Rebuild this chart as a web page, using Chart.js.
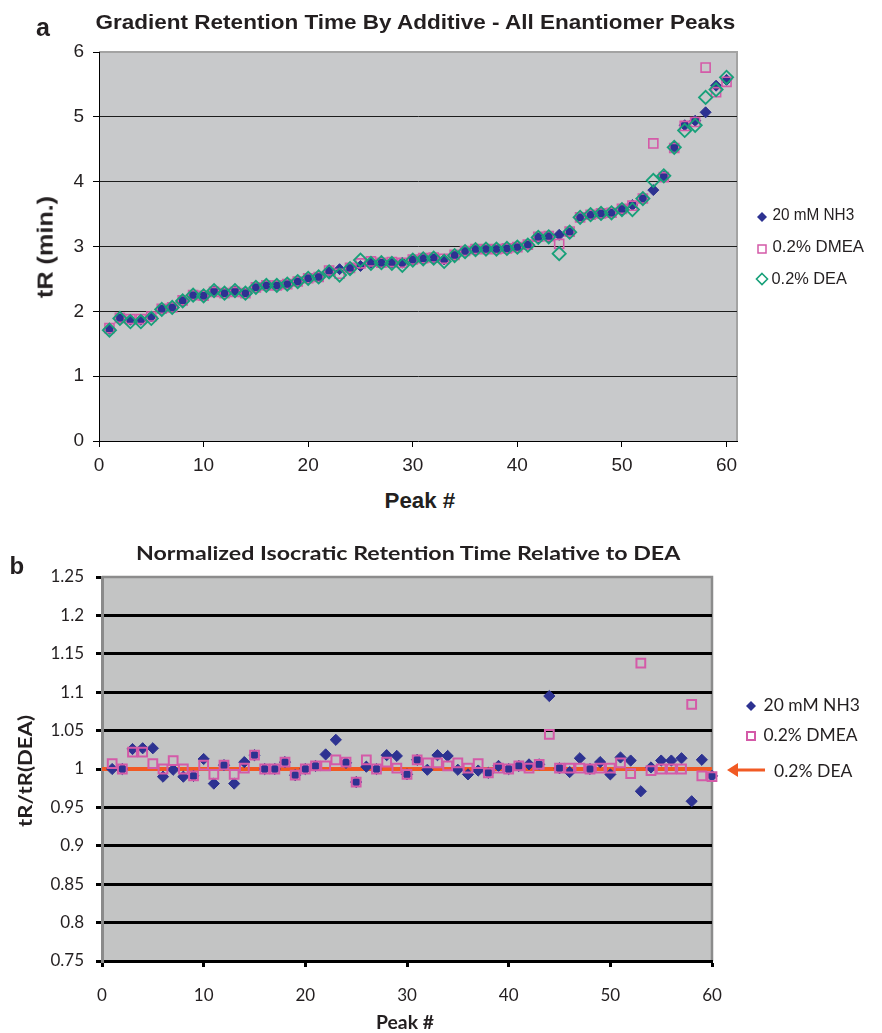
<!DOCTYPE html>
<html><head><meta charset="utf-8">
<script src="https://cdn.jsdelivr.net/npm/chart.js@4.4.0/dist/chart.umd.min.js"></script>
<style>
body{margin:0;background:#fff;}
#wrap{position:relative;width:882px;height:1033px;overflow:hidden;background:#fff;}
canvas{position:absolute;left:0;}
.t{position:absolute;white-space:nowrap;line-height:1.2;color:#231f20;}
</style></head><body><div id="wrap">
<canvas id="c1" width="882" height="480" style="top:0"></canvas>
<canvas id="c2" width="882" height="513" style="top:520px"></canvas>
</div>
<script>
// ---------- data ----------
const PEAKS = [1,2,3,4,5,6,7,8,9,10,11,12,13,14,15,16,17,18,19,20,21,22,23,24,25,26,27,28,29,30,
  31,32,33,34,35,36,37,38,39,40,41,42,43,44,45,46,47,48,49,50,51,52,53,54,55,56,57,58,59,60];
const SERIES_NAMES = ['20 mM NH3', '0.2% DMEA', '0.2% DEA'];
const X_TICKS = [0,10,20,30,40,50,60];
const Y_TICKS_TOP = [0,1,2,3,4,5,6];
const Y_TICKS_BOT = [0.75,0.8,0.85,0.9,0.95,1,1.05,1.1,1.15,1.2,1.25];

// Panel a: gradient retention time (min)
const NH3_TOP = [1.73,1.90,1.87,1.87,1.92,2.04,2.06,2.16,2.25,2.24,
  2.31,2.28,2.31,2.28,2.37,2.40,2.40,2.42,2.46,2.51,
  2.53,2.62,2.65,2.66,2.70,2.75,2.75,2.75,2.75,2.80,
  2.81,2.82,2.80,2.87,2.93,2.95,2.96,2.96,2.97,2.99,
  3.03,3.14,3.15,3.18,3.22,3.44,3.48,3.51,3.51,3.57,
  3.64,3.75,3.87,4.08,4.53,4.87,4.94,5.07,5.48,5.57];
const DMEA_TOP = [1.74,1.90,1.88,1.88,1.92,2.04,2.06,2.17,2.25,2.24,
  2.30,2.28,2.30,2.28,2.37,2.40,2.40,2.42,2.46,2.51,
  2.53,2.63,2.58,2.67,2.74,2.77,2.75,2.76,2.75,2.80,
  2.82,2.83,2.81,2.87,2.93,2.96,2.96,2.96,2.97,2.99,
  3.03,3.15,3.16,3.04,3.23,3.45,3.49,3.51,3.52,3.58,
  3.63,3.74,4.59,4.07,4.52,4.86,4.92,5.76,5.38,5.54];
const DEA_TOP = [1.71,1.89,1.84,1.84,1.89,2.03,2.06,2.16,2.25,2.24,
  2.32,2.28,2.32,2.28,2.37,2.40,2.40,2.42,2.46,2.51,
  2.53,2.61,2.56,2.66,2.79,2.74,2.75,2.74,2.71,2.79,
  2.81,2.82,2.77,2.86,2.92,2.95,2.96,2.96,2.97,2.99,
  3.02,3.14,3.15,2.89,3.22,3.45,3.49,3.51,3.52,3.57,
  3.57,3.74,4.02,4.09,4.53,4.79,4.87,5.30,5.42,5.61];

// Panel b: isocratic retention time normalised to DEA
const NH3_BOT = [1.000,1.000,1.026,1.027,1.027,0.990,0.999,0.990,0.991,1.013,
  0.981,1.005,0.981,1.009,1.018,1.000,1.000,1.009,0.992,1.000,
  1.004,1.019,1.038,1.008,0.983,1.003,1.000,1.018,1.017,0.993,
  1.012,0.999,1.018,1.017,0.999,0.993,0.998,0.995,1.004,1.000,
  1.004,1.006,1.006,1.095,1.001,0.996,1.014,1.000,1.009,0.993,
  1.015,1.011,0.971,1.002,1.011,1.011,1.014,0.958,1.012,0.991];
const DMEA_BOT = [1.007,1.000,1.022,1.022,1.007,1.000,1.011,1.000,0.991,1.005,
  0.993,1.005,0.993,1.001,1.018,1.000,1.000,1.009,0.992,1.000,
  1.004,1.004,1.012,1.009,0.983,1.012,1.000,1.009,1.001,0.993,
  1.012,1.008,1.008,1.004,1.008,1.001,1.007,0.995,1.001,1.000,
  1.004,1.001,1.006,1.045,1.001,1.001,1.001,1.000,1.001,1.001,
  1.008,0.994,1.138,0.998,1.000,1.000,1.000,1.084,0.991,0.990];
const DEA_REF_X = [0,60];
const DEA_REF_Y = [1,1];

// ---------- styles ----------
const NAVY = '#2d3291', PINK = '#d45aa8', GREEN = '#17a079', ORANGE = '#f15a24';
const TXT = '#231f20';

function pts(xs, ys){ return xs.map((x,i)=>({x:x, y:ys[i]})); }

const plotBg = {
  id:'plotBg',
  beforeDraw(chart, args, o){
    const {ctx, chartArea:a} = chart;
    ctx.save();
    ctx.fillStyle = o.color;
    ctx.fillRect(a.left, a.top, a.right-a.left, a.bottom-a.top);
    ctx.strokeStyle = o.border; ctx.lineWidth = o.bw;
    ctx.beginPath();
    ctx.moveTo(a.left, a.top); ctx.lineTo(a.right, a.top); ctx.lineTo(a.right, a.bottom);
    ctx.stroke();
    ctx.restore();
  }
};
function fixTicks(arr){ return function(s){ s.ticks = arr.map(v=>({value:v})); }; }

// ---------- chart a ----------
new Chart(document.getElementById('c1'), {
  type:'scatter',
  data:{datasets:[
    {label:SERIES_NAMES[0], data:pts(PEAKS,NH3_TOP), pointStyle:'rectRot', pointRadius:5.5,
     backgroundColor:NAVY, borderColor:NAVY, borderWidth:1, order:3, clip:false},
    {label:SERIES_NAMES[1], data:pts(PEAKS,DMEA_TOP), pointStyle:'rect', pointRadius:6.4,
     backgroundColor:'rgba(0,0,0,0)', borderColor:PINK, borderWidth:1.6, order:2, clip:false},
    {label:SERIES_NAMES[2], data:pts(PEAKS,DEA_TOP), pointStyle:'rectRot', pointRadius:6.6,
     backgroundColor:'rgba(0,0,0,0)', borderColor:GREEN, borderWidth:1.8, order:1, clip:false}
  ]},
  options:{
    responsive:false, animation:false, devicePixelRatio:1, events:[],
    layout:{padding:{left:0, right:145, top:52, bottom:0}},
    plugins:{legend:{display:false}, tooltip:{enabled:false}, title:{display:false},
      plotBg:{color:'#c8c9cb', border:'#a3a3a3', bw:2}},
    scales:{
      x:{type:'linear', min:0, max:61, afterBuildTicks:fixTicks(X_TICKS),
        afterFit(s){ s.height = 39; },
        ticks:{font:{family:'Liberation Sans', size:19}, color:TXT, padding:7, maxRotation:0, autoSkip:false},
        grid:{drawOnChartArea:false, drawTicks:true, tickLength:6, tickColor:'#000', tickWidth:1},
        border:{color:'#000', width:1}},
      y:{type:'linear', min:0, max:6, afterBuildTicks:fixTicks(Y_TICKS_TOP),
        afterFit(s){ s.width = 99; },
        ticks:{font:{family:'Liberation Sans', size:19}, color:TXT, padding:9, autoSkip:false},
        grid:{color:c=>(c.tick && (c.tick.value===0 || c.tick.value===6)) ? 'rgba(0,0,0,0)' : '#1c1c1c',
          lineWidth:1, tickLength:6, tickColor:'#000', tickWidth:1},
        border:{color:'#000', width:1}}
    }
  },
  plugins:[plotBg]
});

// ---------- chart b ----------
new Chart(document.getElementById('c2'), {
  type:'scatter',
  data:{datasets:[
    {label:SERIES_NAMES[0], data:pts(PEAKS,NH3_BOT), pointStyle:'rectRot', pointRadius:5.6,
     backgroundColor:NAVY, borderColor:NAVY, borderWidth:1, order:2, clip:false},
    {label:SERIES_NAMES[1], data:pts(PEAKS,DMEA_BOT), pointStyle:'rect', pointRadius:6.2,
     backgroundColor:'rgba(0,0,0,0)', borderColor:PINK, borderWidth:2, order:1, clip:false},
    {label:SERIES_NAMES[2], data:pts(DEA_REF_X,DEA_REF_Y), showLine:true, pointRadius:0,
     borderColor:ORANGE, borderWidth:4, order:3, clip:false}
  ]},
  options:{
    responsive:false, animation:false, devicePixelRatio:1, events:[],
    layout:{padding:{left:0, right:170, top:57, bottom:0}},
    plugins:{legend:{display:false}, tooltip:{enabled:false}, title:{display:false},
      plotBg:{color:'#c3c4c4', border:'#8c8c8c', bw:2.5}},
    scales:{
      x:{type:'linear', min:0, max:60, afterBuildTicks:fixTicks(X_TICKS),
        afterFit(s){ s.height = 72; },
        ticks:{font:{family:'Lato', size:17}, color:TXT, padding:18, maxRotation:0, autoSkip:false},
        grid:{drawOnChartArea:false, tickLength:6, tickColor:'#000', tickWidth:3},
        border:{color:'#000', width:3}},
      y:{type:'linear', min:0.75, max:1.25, afterBuildTicks:fixTicks(Y_TICKS_BOT),
        afterFit(s){ s.width = 102; },
        ticks:{font:{family:'Lato', size:17}, color:TXT, padding:12, autoSkip:false,
          callback:v=>String(Number(v.toFixed(2)))},
        grid:{color:c=>(c.tick && (Math.abs(c.tick.value-1.25)<1e-6 || Math.abs(c.tick.value-0.75)<1e-6)) ? 'rgba(0,0,0,0)' : '#000',
          lineWidth:3, tickLength:6, tickColor:'#000', tickWidth:3},
        border:{color:'#8a8a8a', width:3}}
    }
  },
  plugins:[plotBg]
});

// ---------- HTML text ----------
const wrap = document.getElementById('wrap');
function addText(str, cx, cy, font, targetW, rot){
  const d = document.createElement('div');
  d.className = 't'; d.textContent = str; d.style.font = font;
  wrap.appendChild(d);
  const w = d.offsetWidth, h = d.offsetHeight;
  const k = targetW ? targetW / w : 1;
  d.style.left = (cx - w/2) + 'px';
  d.style.top = (cy - h/2) + 'px';
  d.style.transform = (rot ? 'rotate(-90deg) ' : '') + 'scaleX(' + k + ')';
  return d;
}
function addSvg(html, x, y, w, h){
  const d = document.createElement('div');
  d.style.cssText = 'position:absolute;left:'+x+'px;top:'+y+'px;width:'+w+'px;height:'+h+'px;';
  d.innerHTML = '<svg width="'+w+'" height="'+h+'" xmlns="http://www.w3.org/2000/svg">'+html+'</svg>';
  wrap.appendChild(d);
}

// panel a
addText('a', 43, 27, 'bold 25px "Liberation Sans"');
addText('Gradient Retention Time By Additive - All Enantiomer Peaks', 415, 22, 'bold 21px "Liberation Sans"', 640);
addText('tR (min.)', 45, 247, 'bold 22px "Liberation Sans"', 102, true);
addText('Peak #', 420, 501, 'bold 22px "Liberation Sans"', 71);
// legend a
addSvg('<polygon points="6,1 11,6 6,11 1,6" fill="'+NAVY+'"/>', 756, 209, 12, 12);
addText(SERIES_NAMES[0], 813, 215, '17px "Liberation Sans"', 82);
addSvg('<rect x="2" y="2" width="8" height="8" fill="none" stroke="'+PINK+'" stroke-width="1.5"/>', 756, 241, 12, 12);
addText(SERIES_NAMES[1], 818, 247, '17px "Liberation Sans"', 92);
addSvg('<polygon points="7,1.5 12.5,7 7,12.5 1.5,7" fill="none" stroke="'+GREEN+'" stroke-width="1.6"/>', 755, 272, 14, 14);
addText(SERIES_NAMES[2], 809, 279, '17px "Liberation Sans"', 75);

// panel b
addText('b', 17, 566, 'bold 24px "Liberation Sans"');
addText('Normalized Isocratic Retention Time Relative to DEA', 408, 553, 'bold 18px Lato', 544);
addText('tR/tR(DEA)', 24, 771, 'bold 18px Lato', 112, true);
addText('Peak #', 405, 1022, 'bold 18px Lato', 58);
// legend b
addSvg('<polygon points="6,1 11,6 6,11 1,6" fill="'+NAVY+'"/>', 745, 698, 12, 12);
addText(SERIES_NAMES[0], 811, 704, '18px Lato', 96);
addSvg('<rect x="2" y="2" width="8" height="8" fill="none" stroke="'+PINK+'" stroke-width="2"/>', 745, 728, 12, 12);
addText(SERIES_NAMES[1], 810, 734, '18px Lato', 94);
addSvg('<polygon points="0,8 11,1 11,6.5 38,6.5 38,9.5 11,9.5 11,15" fill="'+ORANGE+'"/>', 727, 762, 40, 16);
addText(SERIES_NAMES[2], 813, 770, '18px Lato', 78);
</script>
</body></html>
